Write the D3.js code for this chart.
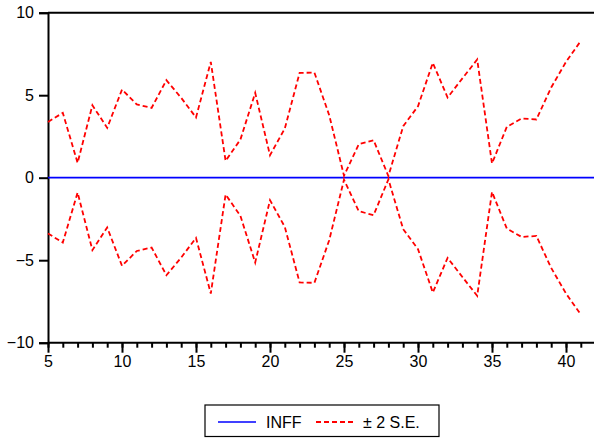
<!DOCTYPE html>
<html>
<head>
<meta charset="utf-8">
<script src="https://cdn.jsdelivr.net/npm/d3@7"></script>
<style>
  html, body { margin: 0; padding: 0; background: #fff; }
  svg { display: block; font-family: "Liberation Sans", Arial, sans-serif; }
</style>
</head>
<body>
<svg id="chart" width="594" height="438"></svg>
<script>
// Periods on the horizontal axis
const periods = d3.range(5, 42);            // 5 .. 41
const inffPeriods = d3.range(5, 43);        // zero line runs to the frame edge
const inffValues = inffPeriods.map(() => 0);

// Upper and lower ±2 standard-error bands
const upperBand = [3.38, 3.93, 0.90, 4.39, 3.02, 5.34, 4.44, 4.23, 5.91, 4.84,
                   3.65, 7.02, 1.02, 2.31, 5.14, 1.36, 2.98, 6.35, 6.37, 3.79,
                   0.12, 2.03, 2.27, 0.10, 3.12, 4.33, 6.96, 4.86, 6.02, 7.16,
                   0.86, 3.08, 3.59, 3.53, 5.47, 7.02, 8.29];
const lowerBand = [-3.38, -3.93, -0.90, -4.39, -3.02, -5.34, -4.44, -4.23, -5.91, -4.84,
                   -3.65, -7.02, -1.02, -2.31, -5.14, -1.36, -2.98, -6.35, -6.37, -3.79,
                   -0.12, -2.03, -2.27, -0.10, -3.12, -4.33, -6.96, -4.86, -6.02, -7.16,
                   -0.86, -3.08, -3.59, -3.53, -5.47, -7.02, -8.29];

const xTickLabels = [5, 10, 15, 20, 25, 30, 35, 40];
const yTickLabels = [-10, -5, 0, 5, 10];
const legendLabels = ["INFF", "\u00B1 2 S.E."];

const svg = d3.select("#chart");
const plot = { left: 48, right: 595.6, top: 12.7, bottom: 342.7 };

const x = d3.scaleLinear().domain([5, 42]).range([plot.left, plot.right]);
const y = d3.scaleLinear().domain([-10, 10]).range([plot.bottom, plot.top]);

// Frame: top line
svg.append("line")
  .attr("x1", plot.left).attr("x2", 600)
  .attr("y1", plot.top).attr("y2", plot.top)
  .attr("stroke", "#000").attr("stroke-width", 2);

// Left axis
const yAxis = d3.axisLeft(y).tickValues(yTickLabels).tickSize(9).tickPadding(5)
  .tickFormat(d3.format("d"));
const gy = svg.append("g").attr("transform", `translate(${plot.left},0)`).call(yAxis);
gy.select(".domain").attr("stroke-width", 2);
gy.selectAll(".tick line").attr("stroke-width", 2);
gy.selectAll("text").attr("font-size", 16).attr("fill", "#000")
  .attr("font-family", "'Liberation Sans', Arial, sans-serif");

// Bottom axis: minor ticks at each period, labelled major ticks every 5
const xMinor = d3.axisBottom(x).tickValues(d3.range(5, 43)).tickSize(5).tickFormat("");
const gxm = svg.append("g").attr("transform", `translate(0,${plot.bottom})`).call(xMinor);
gxm.select(".domain").attr("stroke-width", 2).attr("d", `M${plot.left},0H600`);
gxm.selectAll(".tick line").attr("stroke-width", 2);

const xMajor = d3.axisBottom(x).tickValues(xTickLabels).tickSize(10).tickPadding(3)
  .tickFormat(d3.format("d"));
const gx = svg.append("g").attr("transform", `translate(0,${plot.bottom})`).call(xMajor);
gx.select(".domain").remove();
gx.selectAll(".tick line").attr("stroke-width", 2);
gx.selectAll("text").attr("font-size", 16).attr("fill", "#000")
  .attr("font-family", "'Liberation Sans', Arial, sans-serif");

// Series
const line = d3.line().x(d => x(d[0])).y(d => y(d[1]));

svg.append("path")
  .datum(inffPeriods.map((p, i) => [p, inffValues[i]]))
  .attr("d", line)
  .attr("fill", "none").attr("stroke", "#0000ff").attr("stroke-width", 1.7);

[upperBand, lowerBand].forEach(band => {
  svg.append("path")
    .datum(periods.map((p, i) => [p, band[i]]))
    .attr("d", line)
    .attr("fill", "none").attr("stroke", "#ff0000").attr("stroke-width", 1.8)
    .attr("stroke-dasharray", "5,3");
});

// Legend
const lg = svg.append("g");
lg.append("rect")
  .attr("x", 205).attr("y", 405).attr("width", 234).attr("height", 31.5)
  .attr("fill", "#fff").attr("stroke", "#000").attr("stroke-width", 1.2);
lg.append("line").attr("x1", 218).attr("x2", 256).attr("y1", 422).attr("y2", 422)
  .attr("stroke", "#0000ff").attr("stroke-width", 1.7);
lg.append("text").attr("x", 266).attr("y", 428).text(legendLabels[0])
  .attr("font-size", 16).attr("fill", "#000");
lg.append("line").attr("x1", 316).attr("x2", 355).attr("y1", 422).attr("y2", 422)
  .attr("stroke", "#ff0000").attr("stroke-width", 1.8).attr("stroke-dasharray", "5,3");
lg.append("text").attr("x", 363).attr("y", 428).text(legendLabels[1])
  .attr("font-size", 16).attr("fill", "#000");
</script>
</body>
</html>
